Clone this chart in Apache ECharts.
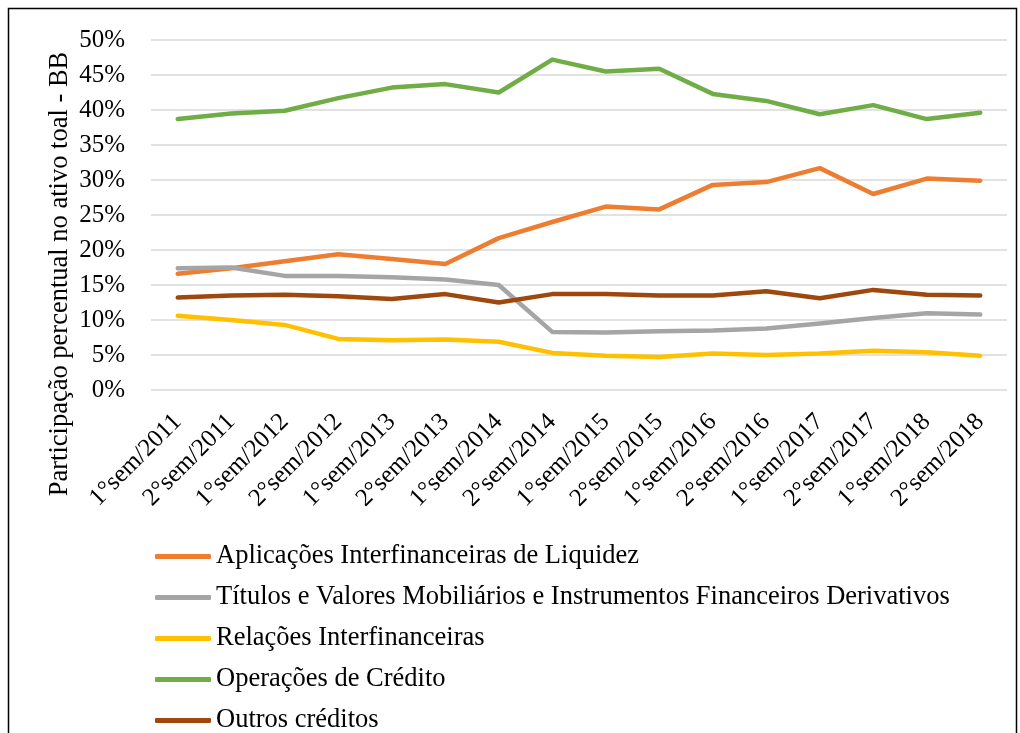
<!DOCTYPE html>
<html>
<head>
<meta charset="utf-8">
<script src="https://cdn.jsdelivr.net/npm/echarts@6/dist/echarts.min.js"></script>
<style>
html, body { margin: 0; padding: 0; background: #fff; }
#chart { width: 1020px; height: 733px; }
</style>
</head>
<body>
<div id="chart"></div>
<script>
let semesters = ['1°sem/2011', '2°sem/2011', '1°sem/2012', '2°sem/2012', '1°sem/2013', '2°sem/2013',
    '1°sem/2014', '2°sem/2014', '1°sem/2015', '2°sem/2015', '1°sem/2016', '2°sem/2016',
    '1°sem/2017', '2°sem/2017', '1°sem/2018', '2°sem/2018'];

// participação (%) no ativo total
let aplicacoes = [16.6, 17.4, 18.4, 19.4, 18.7, 18.0, 21.7, 24.0, 26.2, 25.8, 29.3, 29.7, 31.7, 28.0, 30.2, 29.9];
let titulos = [17.4, 17.5, 16.3, 16.3, 16.1, 15.8, 15.0, 8.3, 8.2, 8.4, 8.5, 8.8, 9.5, 10.3, 10.95, 10.8];
let relacoes = [10.6, 10.0, 9.3, 7.3, 7.1, 7.2, 6.9, 5.3, 4.9, 4.7, 5.2, 5.0, 5.2, 5.6, 5.4, 4.9];
let operacoes = [38.7, 39.5, 39.9, 41.7, 43.2, 43.7, 42.5, 47.2, 45.5, 45.9, 42.3, 41.3, 39.4, 40.7, 38.7, 39.6];
let outros = [13.2, 13.5, 13.6, 13.4, 13.0, 13.7, 12.5, 13.7, 13.7, 13.5, 13.5, 14.1, 13.1, 14.3, 13.6, 13.5];

let serieNames = ['Aplicações Interfinanceiras de Liquidez',
    'Títulos e Valores Mobiliários e Instrumentos Financeiros Derivativos',
    'Relações Interfinanceiras',
    'Operações de Crédito',
    'Outros créditos'];
let serieData = [aplicacoes, titulos, relacoes, operacoes, outros];
let serieColors = ['#ED7D31', '#A5A5A5', '#FFC000', '#70AD47', '#9E480E'];

let fontFamily = '"Liberation Serif", "Times New Roman", serif';

let series = serieNames.map(function (name, i) {
    return {
        name: name,
        type: 'line',
        data: serieData[i],
        symbol: 'none',
        smooth: false,
        lineStyle: { width: 4.5, color: serieColors[i], cap: 'round', join: 'round' },
        itemStyle: { color: serieColors[i] }
    };
});

let option = {
    backgroundColor: '#fff',
    animation: false,
    textStyle: { fontFamily: fontFamily, color: '#000' },
    grid: { left: 151, right: 13, top: 40, bottom: 343, containLabel: false },
    xAxis: {
        type: 'category',
        data: semesters,
        boundaryGap: true,
        axisLine: { show: false },
        axisTick: { show: false },
        axisLabel: {
            rotate: 45,
            interval: 0,
            margin: 28,
            fontSize: 25,
            fontFamily: fontFamily,
            color: '#000'
        }
    },
    yAxis: {
        type: 'value',
        min: 0,
        max: 50,
        interval: 5,
        axisLine: { show: false },
        axisTick: { show: false },
        axisLabel: {
            formatter: '{value}%',
            margin: 26,
            fontSize: 25,
            fontFamily: fontFamily,
            color: '#000'
        },
        splitLine: { lineStyle: { color: '#D9D9D9', width: 1.5 } }
    },
    legend: {
        orient: 'vertical',
        left: 150,
        top: 538,
        height: 230,
        itemWidth: 56,
        itemHeight: 5,
        itemGap: 14,
        icon: 'roundRect',
        textStyle: { fontSize: 26.5, lineHeight: 27, fontFamily: fontFamily, color: '#000' },
        data: serieNames
    },
    graphic: [
        {
            type: 'rect',
            shape: { x: 8.5, y: 8.5, width: 1008, height: 760 },
            style: { fill: 'none', stroke: '#000', lineWidth: 1.5 },
            silent: true
        },
        {
            type: 'text',
            x: 60,
            y: 274,
            rotation: Math.PI / 2,
            style: {
                text: 'Participação percentual no ativo toal - BB',
                font: '26.5px ' + fontFamily,
                fill: '#000',
                align: 'center',
                verticalAlign: 'middle'
            }
        }
    ],
    series: series
};

let chart = echarts.init(document.getElementById('chart'));
chart.setOption(option);
</script>
</body>
</html>
